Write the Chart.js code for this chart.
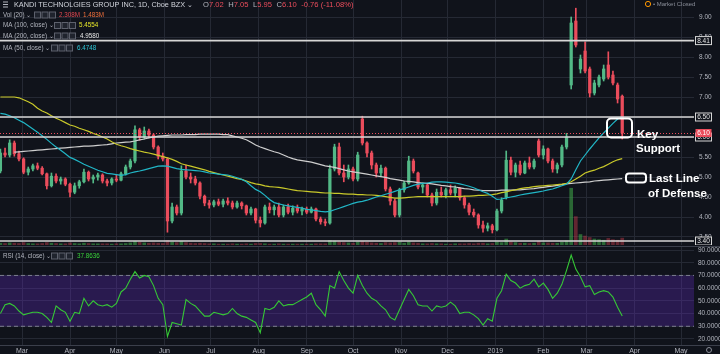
<!DOCTYPE html>
<html>
<head>
<meta charset="utf-8">
<script src="https://cdn.jsdelivr.net/npm/chart.js@4.4.1/dist/chart.umd.min.js"></script>
<style>
  html, body { margin: 0; padding: 0; background: #10131b; }
  #wrap { position: relative; width: 720px; height: 354px; overflow: hidden; background: #10131b; }
  #main { position: absolute; left: 0; top: 0; }
  #rsi { position: absolute; left: 0; top: 245px; }
</style>
</head>
<body>
<div id="wrap">
  <canvas id="main" width="720" height="245"></canvas>
  <canvas id="rsi" width="720" height="109"></canvas>
</div>
<script>
// ~2 trading sessions per candle, first candle mid Feb 2018 (day-of-year numbering from 1 Jan 2018)
const startDay = 45;
const stepDays = 3;

const opens = [5.15,5.60,5.55,5.85,5.58,5.45,5.12,5.20,5.28,5.22,
  5.08,4.78,5.02,4.90,4.95,4.82,4.62,4.78,4.88,5.12,
  4.95,5.00,5.05,4.90,4.85,4.95,4.92,5.08,5.25,5.40,
  6.18,6.00,6.15,6.05,5.75,5.52,5.45,3.90,4.25,4.10,
  5.15,5.00,4.95,4.85,4.52,4.35,4.30,4.38,4.32,4.40,
  4.35,4.25,4.35,4.28,4.10,4.20,3.92,3.85,4.25,4.18,
  4.25,4.05,4.25,4.12,4.22,4.15,4.20,4.12,4.20,3.95,
  3.88,3.85,5.20,5.75,5.10,5.00,5.20,4.95,6.45,5.85,
  5.60,5.30,5.10,5.22,4.70,4.40,4.05,4.68,4.85,5.40,
  5.10,4.75,4.80,4.55,4.35,4.62,4.55,4.68,4.60,4.72,
  4.48,4.30,4.12,4.05,3.80,3.72,3.78,3.68,4.15,4.50,
  5.42,5.12,5.30,5.10,5.35,5.25,5.90,5.55,5.70,5.40,
  5.20,5.30,5.75,7.30,8.90,7.70,8.15,7.70,7.10,7.30,
  7.45,7.80,7.55,7.30,7.02];
const highs = [5.70,5.72,5.93,5.90,5.65,5.48,5.25,5.32,5.35,5.26,
  5.10,5.10,5.08,5.00,4.98,4.85,4.85,4.92,5.20,5.15,
  5.05,5.10,5.08,4.95,4.98,5.05,5.12,5.30,5.45,6.28,
  6.22,6.25,6.20,6.08,5.78,5.60,5.48,4.35,4.30,5.28,
  5.30,5.10,5.02,4.88,4.55,4.42,4.42,4.45,4.45,4.48,
  4.40,4.40,4.38,4.30,4.25,4.22,4.00,4.30,4.35,4.30,
  4.35,4.30,4.32,4.28,4.30,4.25,4.25,4.25,4.22,4.00,
  3.95,5.30,5.82,5.85,5.30,5.30,5.25,5.62,6.52,5.88,
  5.65,5.35,5.30,5.25,4.75,4.45,4.72,4.90,5.52,5.45,
  5.12,4.85,4.82,4.60,4.70,4.75,4.72,4.80,4.78,4.74,
  4.52,4.35,4.20,4.08,3.90,3.85,3.82,4.20,4.48,5.65,
  5.50,5.35,5.40,5.40,5.50,5.45,5.95,5.78,5.72,5.45,
  5.35,5.80,6.09,9.00,9.22,8.05,8.38,7.75,7.42,7.55,
  7.80,8.13,7.65,7.35,7.05];
const lows = [5.10,5.50,5.50,5.52,5.40,5.08,5.05,5.15,5.18,5.05,
  4.70,4.75,4.85,4.82,4.78,4.50,4.58,4.72,4.85,4.90,
  4.85,4.92,4.85,4.78,4.80,4.88,4.90,5.05,5.20,5.35,
  5.92,5.95,5.98,5.70,5.45,5.40,3.62,3.85,4.05,4.05,
  4.95,4.85,4.80,4.45,4.28,4.22,4.25,4.28,4.25,4.30,
  4.20,4.22,4.20,4.05,4.05,3.85,3.75,3.82,4.10,4.05,
  4.00,4.00,4.08,4.05,4.10,4.05,4.08,4.10,3.90,3.82,
  3.78,3.82,5.15,5.05,4.88,4.95,4.90,4.90,5.80,5.50,
  5.20,5.00,5.02,4.65,4.30,4.00,4.00,4.62,4.82,5.10,
  4.70,4.60,4.50,4.28,4.30,4.50,4.48,4.55,4.50,4.42,
  4.22,4.05,4.00,3.72,3.62,3.65,3.60,3.65,4.10,4.45,
  5.05,5.00,5.05,5.08,5.20,5.20,5.50,5.45,5.35,5.12,
  5.10,5.25,5.70,7.20,8.25,7.60,7.60,7.00,7.05,7.25,
  7.40,7.45,7.30,6.85,5.95];
const closes = [5.60,5.55,5.85,5.58,5.45,5.12,5.20,5.28,5.22,5.08,
  4.78,5.02,4.90,4.95,4.82,4.62,4.78,4.88,5.12,4.95,
  5.00,5.05,4.90,4.85,4.95,4.92,5.08,5.25,5.40,6.18,
  6.00,6.15,6.05,5.75,5.52,5.45,3.90,4.25,4.10,5.15,
  5.00,4.95,4.85,4.52,4.35,4.30,4.38,4.32,4.40,4.35,
  4.25,4.35,4.28,4.10,4.20,3.92,3.85,4.25,4.18,4.25,
  4.05,4.25,4.12,4.22,4.15,4.20,4.12,4.20,3.95,3.88,
  3.85,5.20,5.75,5.10,5.00,5.20,4.95,5.55,5.85,5.60,
  5.30,5.10,5.22,4.70,4.40,4.05,4.68,4.85,5.40,5.15,
  4.75,4.80,4.55,4.35,4.62,4.55,4.68,4.60,4.72,4.48,
  4.30,4.12,4.05,3.80,3.72,3.78,3.68,4.15,4.42,5.42,
  5.12,5.30,5.10,5.35,5.25,5.40,5.55,5.70,5.40,5.20,
  5.30,5.75,6.00,8.85,8.30,7.95,7.65,7.10,7.35,7.50,
  7.70,7.50,7.35,6.95,6.10];
// volume, millions
const volumes = [0.6,0.5,0.7,0.6,0.5,0.8,0.5,0.4,0.4,0.5,
  0.8,0.6,0.5,0.4,0.4,0.7,0.5,0.4,0.6,0.5,
  0.4,0.4,0.4,0.4,0.3,0.4,0.4,0.5,0.7,1.2,
  0.9,0.7,0.6,0.7,0.6,0.5,1.5,1.0,0.8,1.2,
  0.8,0.6,0.5,0.6,0.5,0.4,0.4,0.3,0.3,0.3,
  0.4,0.3,0.3,0.4,0.3,0.5,0.5,0.4,0.3,0.3,
  0.4,0.3,0.3,0.3,0.3,0.3,0.3,0.3,0.4,0.4,
  0.4,1.5,1.3,1.0,0.8,0.7,0.6,1.0,1.2,0.9,
  0.7,0.6,0.5,0.8,0.7,0.8,1.0,0.6,1.0,0.7,
  0.6,0.4,0.4,0.5,0.4,0.4,0.3,0.3,0.4,0.4,
  0.4,0.5,0.4,0.6,0.6,0.4,0.5,1.0,0.8,2.0,
  1.0,0.8,0.6,0.6,0.5,0.6,1.2,0.7,0.7,0.6,
  0.6,1.0,1.4,19.0,9.5,3.5,3.0,2.5,2.0,1.8,
  1.6,2.2,1.8,1.6,2.3];
const ma50 = [6.59,6.57,6.53,6.48,6.42,6.36,6.28,6.20,6.12,6.03,
  5.94,5.84,5.75,5.67,5.58,5.49,5.44,5.38,5.32,5.27,
  5.22,5.17,5.13,5.09,5.08,5.06,5.04,5.06,5.10,5.13,
  5.15,5.18,5.21,5.24,5.27,5.28,5.27,5.24,5.21,5.19,
  5.18,5.17,5.16,5.15,5.13,5.10,5.09,5.07,5.06,5.05,
  5.02,4.98,4.94,4.88,4.78,4.69,4.63,4.54,4.44,4.36,
  4.33,4.30,4.28,4.26,4.24,4.22,4.19,4.18,4.16,4.14,
  4.13,4.14,4.18,4.22,4.26,4.30,4.34,4.37,4.39,4.42,
  4.46,4.50,4.53,4.57,4.60,4.64,4.68,4.71,4.75,4.79,
  4.82,4.84,4.85,4.87,4.88,4.88,4.87,4.86,4.85,4.83,
  4.80,4.77,4.73,4.68,4.63,4.59,4.52,4.44,4.45,4.48,
  4.50,4.52,4.55,4.57,4.59,4.61,4.63,4.65,4.68,4.70,
  4.74,4.78,4.82,4.95,5.18,5.40,5.55,5.70,5.84,5.98,
  6.10,6.22,6.34,6.45,6.50];
const ma100 = [7.00,7.00,7.00,7.00,6.98,6.93,6.88,6.82,6.72,6.65,
  6.60,6.53,6.47,6.42,6.36,6.30,6.27,6.22,6.18,6.14,
  6.09,6.05,6.00,5.95,5.88,5.82,5.78,5.75,5.71,5.68,
  5.65,5.62,5.60,5.57,5.54,5.51,5.48,5.44,5.39,5.33,
  5.30,5.27,5.24,5.21,5.18,5.14,5.11,5.08,5.05,5.02,
  4.99,4.96,4.94,4.90,4.86,4.83,4.81,4.78,4.76,4.75,
  4.74,4.72,4.70,4.68,4.66,4.65,4.64,4.63,4.62,4.61,
  4.60,4.60,4.59,4.59,4.58,4.57,4.57,4.56,4.56,4.55,
  4.55,4.54,4.53,4.51,4.49,4.47,4.47,4.48,4.49,4.50,
  4.51,4.51,4.51,4.51,4.51,4.51,4.51,4.51,4.51,4.51,
  4.52,4.52,4.53,4.54,4.54,4.55,4.56,4.58,4.61,4.63,
  4.66,4.68,4.71,4.73,4.74,4.76,4.77,4.78,4.79,4.80,
  4.81,4.82,4.84,4.88,4.95,5.02,5.10,5.14,5.17,5.22,
  5.26,5.32,5.38,5.43,5.46];
const ma200 = [null,null,null,5.62,5.63,5.64,5.65,5.66,5.67,5.68,
  5.69,5.70,5.71,5.72,5.73,5.74,5.75,5.76,5.77,5.77,
  5.78,5.79,5.80,5.81,5.83,5.85,5.86,5.87,5.88,5.90,
  5.93,5.95,5.98,6.00,6.02,6.03,6.04,6.05,6.05,6.05,
  6.06,6.06,6.06,6.07,6.07,6.07,6.07,6.07,6.06,6.06,
  6.03,6.00,5.97,5.93,5.87,5.80,5.75,5.71,5.67,5.63,
  5.60,5.55,5.50,5.46,5.43,5.41,5.39,5.37,5.34,5.31,
  5.28,5.26,5.24,5.21,5.18,5.15,5.13,5.11,5.09,5.07,
  5.05,5.03,5.01,4.99,4.96,4.94,4.92,4.90,4.89,4.88,
  4.86,4.85,4.84,4.83,4.81,4.79,4.78,4.76,4.75,4.73,
  4.71,4.70,4.68,4.67,4.66,4.66,4.66,4.66,4.67,4.67,
  4.67,4.68,4.68,4.69,4.70,4.71,4.73,4.74,4.76,4.77,
  4.79,4.81,4.83,4.84,4.85,4.86,4.87,4.88,4.90,4.91,
  4.92,4.93,4.94,4.95,4.96];
const rsi = [40,47,48,46,42,39,40,41,41,40,
  37,33,46,43,41,34,41,40,52,46,
  50,47,46,47,45,48,57,60,67,73,
  68,70,69,62,52,47,22,33,32,31,
  51,48,46,42,38,38,41,40,39,40,
  44,40,38,37,35,33,25,44,43,45,
  50,46,47,47,49,51,53,56,47,43,
  38,62,60,73,66,60,56,70,62,56,
  52,50,46,43,37,35,43,51,59,54,
  47,46,46,42,46,45,46,49,46,40,
  41,41,39,36,31,36,34,52,58,71,
  66,64,60,62,63,67,61,64,59,52,
  56,63,74,86,75,69,61,62,55,57,
  58,57,53,45,38];

const monthDays = [59,90,120,151,181,212,243,273,304,334,365,396,424,455,485];
const monthLabels = ['Mar','Apr','May','Jun','Jul','Aug','Sep','Oct','Nov','Dec','2019','Feb','Mar','Apr','May'];
const priceTicks = [3.5,4,4.5,5,5.5,6,6.5,7,7.5,8,8.5,9];
const rsiTicks = [20,30,40,50,60,70,80,90];
const levelLines = [8.41, 6.50, 6.00, 3.40];
const lastPrice = 6.10;

const fontFam = "'Liberation Sans', Arial, sans-serif";
const bgColor = '#10131b';
const gridColor = '#252934';
const textColor = '#b2b5be';
const upColor = '#53b987';
const downColor = '#eb4d5c';
const xMin = 44.74, xMax = 493.4;

const xs = closes.map((_, i) => startDay + i * stepDays);
const isUp = closes.map((c, i) => c >= opens[i]);
const candleColors = isUp.map(u => u ? upColor : downColor);
const volColors = isUp.map(u => u ? 'rgba(60,160,70,0.6)' : 'rgba(200,60,75,0.45)');

function txt(ctx, s, x, y, color, size, weight, align) {
  ctx.font = (weight || 'normal') + ' ' + size + 'px ' + fontFam;
  ctx.fillStyle = color;
  ctx.textAlign = align || 'left';
  ctx.textBaseline = 'middle';
  ctx.fillText(s, x, y);
  return ctx.measureText(s).width;
}

function icons(ctx, x, y) {
  ctx.lineWidth = 1;
  for (let i = 0; i < 3; i++) {
    ctx.fillStyle = '#1f232d';
    ctx.strokeStyle = '#5d616d';
    ctx.fillRect(x + i * 7.5 + 0.5, y - 3, 6, 6);
    ctx.strokeRect(x + i * 7.5 + 0.5, y - 3, 6, 6);
  }
}

function priceBox(ctx, yPix, label, fill, stroke, color) {
  ctx.fillStyle = fill;
  ctx.fillRect(695.5, yPix - 4, 16, 8);
  if (stroke) {
    ctx.strokeStyle = stroke;
    ctx.lineWidth = 1;
    ctx.strokeRect(695.5, yPix - 4, 16, 8);
  }
  txt(ctx, label, 703.5, yPix + 0.5, color, 6.5, 'normal', 'center');
}

function monthGrid(extra) {
  return Object.assign({
    type: 'linear', min: xMin, max: xMax, offset: false,
    afterBuildTicks: s => { s.ticks = monthDays.map(v => ({ value: v })); },
    grid: { color: gridColor, drawTicks: false, offset: false },
    border: { display: false }
  }, extra);
}

const mainOverlay = {
  id: 'mainOverlay',
  afterDatasetsDraw(chart) {
    const ctx = chart.ctx, y = chart.scales.y, a = chart.chartArea;
    ctx.save();
    ctx.strokeStyle = downColor;
    ctx.lineWidth = 1;
    ctx.setLineDash([1, 2]);
    const py = Math.round(y.getPixelForValue(lastPrice)) + 0.5;
    ctx.beginPath(); ctx.moveTo(a.left, py); ctx.lineTo(a.right, py); ctx.stroke();
    ctx.setLineDash([]);
    ctx.strokeStyle = '#d6d6d6';
    ctx.lineWidth = 1.6;
    levelLines.forEach(v => {
      const ly = y.getPixelForValue(v);
      ctx.beginPath(); ctx.moveTo(a.left, ly); ctx.lineTo(a.right, ly); ctx.stroke();
    });
    ctx.restore();
  },
  afterDraw(chart) {
    const ctx = chart.ctx, y = chart.scales.y;
    ctx.save();
    // price scale labels
    priceTicks.forEach(v => txt(ctx, v.toFixed(2), 699, y.getPixelForValue(v), textColor, 6.5));
    levelLines.forEach(v => priceBox(ctx, y.getPixelForValue(v), v.toFixed(2), bgColor, '#d6d6d6', '#e6e6e6'));
    priceBox(ctx, y.getPixelForValue(lastPrice), lastPrice.toFixed(2), downColor, null, '#ffffff');

    // header legend
    ctx.strokeStyle = textColor; ctx.lineWidth = 1;
    for (let i = 0; i < 3; i++) { ctx.beginPath(); ctx.moveTo(3, 2 + i * 2.5); ctx.lineTo(8, 2 + i * 2.5); ctx.stroke(); }
    txt(ctx, 'KANDI TECHNOLGIES GROUP INC, 1D, Cboe BZX ⌄', 14, 4.5, '#d1d4dc', 7.3);
    let x = 203;
    [['O', '7.02'], ['H', '7.05'], ['L', '5.95'], ['C', '6.10']].forEach(p => {
      x += txt(ctx, p[0], x, 4.5, textColor, 7.6);
      x += txt(ctx, p[1], x, 4.5, downColor, 7.6) + 4.5;
    });
    txt(ctx, '-0.76 (-11.08%)', x, 4.5, downColor, 7.6);

    txt(ctx, 'Vol (20) ⌄', 3, 15, textColor, 6.3);
    icons(ctx, 34, 15);
    txt(ctx, '2.308M', 59, 15, '#e0474f', 6.3);
    txt(ctx, '1.483M', 83, 15, '#f0703c', 6.3);
    txt(ctx, 'MA (100, close) ⌄', 3, 25.5, textColor, 6.3);
    icons(ctx, 54, 25.5);
    txt(ctx, '5.4554', 79, 25.5, '#e5e52a', 6.3);
    txt(ctx, 'MA (200, close) ⌄', 3, 36, textColor, 6.3);
    icons(ctx, 54, 36);
    txt(ctx, '4.9580', 80, 36, '#e6e6e6', 6.3);
    txt(ctx, 'MA (50, close) ⌄', 3, 48, textColor, 6.3);
    icons(ctx, 51, 48);
    txt(ctx, '6.4748', 77, 48, '#2ec6d6', 6.3);

    // market status
    ctx.strokeStyle = '#ff9800'; ctx.lineWidth = 1;
    ctx.beginPath(); ctx.arc(648, 4, 2.6, 0, Math.PI * 2); ctx.stroke();
    txt(ctx, '• Market Closed', 653, 4, '#8a8e99', 6);

    // annotations
    ctx.strokeStyle = '#ffffff'; ctx.lineWidth = 2;
    ctx.beginPath(); ctx.roundRect(607, 118.5, 25, 19, 4); ctx.stroke();
    ctx.beginPath(); ctx.roundRect(626, 173.5, 20, 9, 3); ctx.stroke();
    txt(ctx, 'Key', 637, 135, '#ffffff', 11.5, 'bold');
    txt(ctx, 'Support', 636, 149, '#ffffff', 11.5, 'bold');
    txt(ctx, 'Last Line', 649, 179, '#ffffff', 11.5, 'bold');
    txt(ctx, 'of Defense', 648, 193.5, '#ffffff', 11.5, 'bold');
    ctx.restore();
  }
};

new Chart(document.getElementById('main'), {
  type: 'bar',
  data: {
    datasets: [
      { type: 'line', label: 'MA 50', data: xs.map((x, i) => ({ x, y: ma50[i] })), borderColor: '#21b6c6', borderWidth: 1.2, pointRadius: 0, order: 1 },
      { type: 'line', label: 'MA 100', data: xs.map((x, i) => ({ x, y: ma100[i] })), borderColor: '#c9c92a', borderWidth: 1.2, pointRadius: 0, order: 1 },
      { type: 'line', label: 'MA 200', data: xs.map((x, i) => ({ x, y: ma200[i] })), borderColor: '#cfcfcf', borderWidth: 1.2, pointRadius: 0, spanGaps: false, order: 1 },
      { label: 'wick', data: xs.map((x, i) => ({ x, y: [lows[i], highs[i]] })), backgroundColor: candleColors, barThickness: 1, grouped: false, order: 2 },
      { label: 'body', data: xs.map((x, i) => ({ x, y: [opens[i], closes[i]] })), backgroundColor: candleColors, barThickness: 2.6, minBarLength: 1, grouped: false, order: 2 },
      { label: 'volume', yAxisID: 'yv', data: xs.map((x, i) => ({ x, y: volumes[i] })), backgroundColor: volColors, barThickness: 3, grouped: false, order: 3 }
    ]
  },
  options: {
    responsive: false,
    animation: false,
    layout: { padding: 0 },
    plugins: { legend: { display: false }, tooltip: { enabled: false } },
    scales: {
      x: monthGrid({ ticks: { display: false }, afterFit: s => { s.height = 0; } }),
      y: {
        position: 'right', min: 3.3, max: 9.425,
        afterBuildTicks: s => { s.ticks = priceTicks.map(v => ({ value: v })); },
        ticks: { display: false },
        grid: { color: gridColor, drawTicks: false },
        border: { display: false },
        afterFit: s => { s.width = 26; }
      },
      yv: { display: false, min: 0, max: 82 }
    }
  },
  plugins: [mainOverlay]
});

const rsiOverlay = {
  id: 'rsiOverlay',
  beforeDatasetsDraw(chart) {
    const ctx = chart.ctx, y = chart.scales.y, a = chart.chartArea;
    const top = y.getPixelForValue(70), bot = y.getPixelForValue(30);
    ctx.save();
    ctx.fillStyle = 'rgba(95, 45, 190, 0.32)';
    ctx.fillRect(a.left, top, a.right - a.left, bot - top);
    ctx.strokeStyle = '#7d7f8f'; ctx.lineWidth = 1; ctx.setLineDash([4, 3]);
    [top, bot].forEach(p => { ctx.beginPath(); ctx.moveTo(a.left, p); ctx.lineTo(a.right, p); ctx.stroke(); });
    ctx.restore();
  },
  afterDraw(chart) {
    const ctx = chart.ctx, y = chart.scales.y;
    ctx.save();
    ctx.strokeStyle = '#3b3f4b'; ctx.lineWidth = 1;
    ctx.beginPath(); ctx.moveTo(0, 1.5); ctx.lineTo(720, 1.5); ctx.stroke();
    ctx.beginPath(); ctx.moveTo(0, 100.5); ctx.lineTo(720, 100.5); ctx.stroke();
    rsiTicks.forEach(v => txt(ctx, v.toFixed(4), 698, y.getPixelForValue(v), textColor, 6.5));
    txt(ctx, 'RSI (14, close) ⌄', 3, 11, textColor, 6.3);
    icons(ctx, 51, 11);
    txt(ctx, '37.8636', 77, 11, '#3ad13a', 6.3);
    ctx.strokeStyle = '#8a8e99';
    ctx.beginPath(); ctx.arc(709, 105, 2.5, 0, Math.PI * 2); ctx.stroke();
    ctx.restore();
  }
};

new Chart(document.getElementById('rsi'), {
  type: 'line',
  data: {
    datasets: [{ label: 'RSI', data: xs.map((x, i) => ({ x, y: rsi[i] })), borderColor: '#36c936', borderWidth: 1.1, pointRadius: 0 }]
  },
  options: {
    responsive: false,
    animation: false,
    layout: { padding: { top: 2, left: 0, right: 0, bottom: 0 } },
    plugins: { legend: { display: false }, tooltip: { enabled: false } },
    scales: {
      x: monthGrid({
        ticks: {
          autoSkip: false, maxRotation: 0, padding: 2, color: textColor,
          font: { size: 7, family: fontFam },
          callback: v => monthLabels[monthDays.indexOf(v)]
        },
        afterFit: s => { s.height = 9; }
      }),
      y: {
        position: 'right', min: 15.28, max: 92.36,
        afterBuildTicks: s => { s.ticks = rsiTicks.map(v => ({ value: v })); },
        ticks: { display: false },
        grid: { color: gridColor, drawTicks: false },
        border: { display: false },
        afterFit: s => { s.width = 26; }
      }
    }
  },
  plugins: [rsiOverlay]
});
</script>
</body>
</html>
